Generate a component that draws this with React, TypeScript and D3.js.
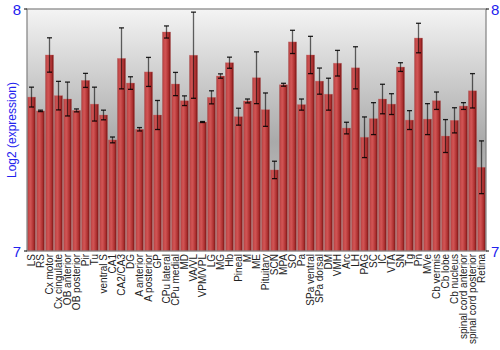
import React from "react";
import * as d3 from "d3";

const regions = [
  "LS", "RS", "Cx motor", "Cx cingulate", "OB anterior", "OB posterior", "Pir", "Tu",
  "ventral S", "CA1", "CA2/CA3", "DG", "A anterior", "A posterior", "GP", "CPu lateral",
  "CPu medial", "MD", "VA/VL", "VPM/VPL", "LG", "MG", "Hb", "Pineal", "M", "ME",
  "Pituitary", "SCN", "MPA", "SO", "Pa", "SPa ventral", "SPa dorsal", "DM", "VMH", "Arc",
  "LH", "PAG", "SC", "IC", "VTA", "SN", "Tg", "Pn", "MVe", "Cb vermis", "Cb lobe",
  "Cb nucleus", "spinal cord anterior", "spinal cord posterior", "Retina",
];

const means = [
  7.636, 7.579, 7.81, 7.642, 7.628, 7.581, 7.705, 7.607, 7.562, 7.459, 7.796, 7.694,
  7.503, 7.74, 7.562, 7.905, 7.69, 7.621, 7.809, 7.533, 7.635, 7.723, 7.778, 7.555,
  7.62, 7.716, 7.584, 7.335, 7.687, 7.864, 7.605, 7.81, 7.702, 7.648, 7.776, 7.508,
  7.757, 7.47, 7.547, 7.628, 7.607, 7.76, 7.541, 7.88, 7.545, 7.621, 7.475, 7.54,
  7.599, 7.662, 7.346,
];

const errors = [
  0.041, 0.003, 0.071, 0.059, 0.07, 0.006, 0.029, 0.07, 0.02, 0.012, 0.126, 0.026,
  0.007, 0.06, 0.06, 0.025, 0.048, 0.02, 0.178, 0.002, 0.027, 0.009, 0.023, 0.035,
  0.008, 0.107, 0.069, 0.036, 0.006, 0.048, 0.023, 0.077, 0.054, 0.066, 0.053, 0.024,
  0.087, 0.084, 0.066, 0.061, 0.043, 0.018, 0.039, 0.061, 0.064, 0.036, 0.068, 0.052,
  0.014, 0.071, 0.109,
];

const yTicks = [7, 8];

const W = 500;
const H = 350;
const margin = { top: 9, right: 14, bottom: 99, left: 27 };

export default function App() {
  const x = d3
    .scaleBand()
    .domain(regions)
    .range([margin.left, W - margin.right])
    .paddingInner(0.1)
    .paddingOuter(0.05);

  const y = d3.scaleLinear().domain([7, 8]).range([H - margin.bottom, margin.top]);

  const blue = "#2222ee";
  const bw = x.bandwidth();

  return (
    <svg
      width={W}
      height={H}
      style={{ position: "absolute", left: 0, top: 0, fontFamily: "Liberation Sans, Arial, sans-serif" }}
    >
      <defs>
        <linearGradient id="bg" x1="0" y1="0" x2="0" y2="1">
          <stop offset="0" stopColor="#f4f4f4" />
          <stop offset="0.55" stopColor="#a9a9a9" />
          <stop offset="1" stopColor="#cfcfcf" />
        </linearGradient>
        <linearGradient id="bar" x1="0" y1="0" x2="1" y2="0">
          <stop offset="0" stopColor="#8c2a2a" />
          <stop offset="0.15" stopColor="#c84c4c" />
          <stop offset="0.4" stopColor="#d05353" />
          <stop offset="0.75" stopColor="#ac2f2f" />
          <stop offset="1" stopColor="#701212" />
        </linearGradient>
      </defs>

      <rect
        x={margin.left}
        y={margin.top}
        width={W - margin.left - margin.right}
        height={H - margin.top - margin.bottom}
        fill="url(#bg)"
      />

      {regions.map((r, i) => {
        const x0 = x(r) as number;
        const top = y(means[i]);
        return (
          <rect
            key={r}
            x={x0}
            y={top}
            width={bw}
            height={y(7) - top}
            fill="url(#bar)"
            stroke="#d07070"
            strokeOpacity={0.5}
            strokeWidth={0.6}
          />
        );
      })}

      {regions.map((r, i) => {
        const cx = (x(r) as number) + bw / 2;
        const hi = y(means[i] + errors[i]);
        const lo = y(means[i] - errors[i]);
        return (
          <g key={r + "-err"} stroke="#000">
            <line x1={cx} x2={cx} y1={hi} y2={lo} strokeOpacity={0.6} strokeWidth={1.3} />
            <line x1={cx - 2.5} x2={cx + 2.5} y1={hi} y2={hi} strokeWidth={1.3} strokeOpacity={0.85} />
            <line x1={cx - 2.5} x2={cx + 2.5} y1={lo} y2={lo} strokeWidth={1.3} strokeOpacity={0.85} />
          </g>
        );
      })}

      <rect
        x={margin.left}
        y={margin.top}
        width={W - margin.left - margin.right}
        height={H - margin.top - margin.bottom}
        fill="none"
        stroke="#808080"
        strokeWidth={1.2}
      />

      {yTicks.map((t) => (
        <g key={t}>
          <line x1={margin.left - 3} x2={margin.left} y1={y(t)} y2={y(t)} stroke="#000" />
          <line x1={W - margin.right} x2={W - margin.right + 3} y1={y(t)} y2={y(t)} stroke="#000" />
          <text
            x={margin.left - 6}
            y={y(t)}
            textAnchor="end"
            dominantBaseline="central"
            fontSize={15}
            fill={blue}
          >
            {t}
          </text>
          <text
            x={W - margin.right + 5}
            y={y(t)}
            textAnchor="start"
            dominantBaseline="central"
            fontSize={15}
            fill={blue}
          >
            {t}
          </text>
        </g>
      ))}

      <text
        transform={`translate(12,${(y(7) + y(8)) / 2}) rotate(-90)`}
        textAnchor="middle"
        dominantBaseline="central"
        fontSize={12}
        fill={blue}
      >
        Log2 (expression)
      </text>

      {regions.map((r) => {
        const cx = (x(r) as number) + bw / 2;
        return (
          <text
            key={r + "-lab"}
            transform={`translate(${cx},${y(7) + 3}) rotate(-90)`}
            textAnchor="end"
            dominantBaseline="central"
            fontSize={10}
            fill="#222"
          >
            {r}
          </text>
        );
      })}
    </svg>
  );
}
